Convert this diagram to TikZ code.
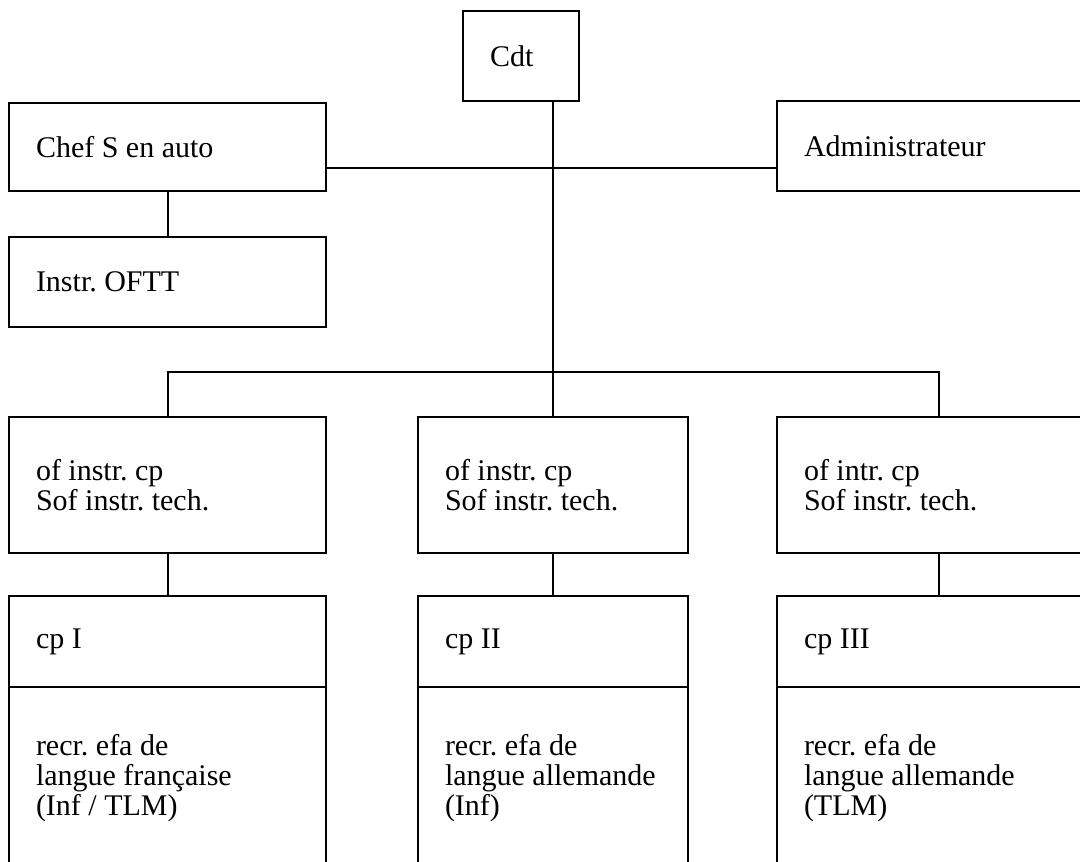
\documentclass[tikz,border=0pt]{standalone}
\usepackage{fontspec}
\setmainfont{Liberation Serif}
\usetikzlibrary{positioning}
\tikzset{
  orgbox/.style={draw, line width=2pt, anchor=north west, align=flush left,
    inner xsep=27pt, inner ysep=0pt, font=\fontsize{30}{30}\selectfont\frenchspacing},
  link/.style={line width=2pt}
}
\begin{document}
\begin{tikzpicture}[x=1pt,y=-1pt]
\clip (0,0) rectangle (1080,862);
\fill[white] (0,0) rectangle (1080,862);

%commandement
\node[orgbox, text width=62pt, minimum height=90pt] (cdt) at (462,10) {Cdt};
\node[orgbox, text width=263pt, minimum height=88pt] (chef) at (8,102) {Chef S en auto};
\node[orgbox, text width=270pt, minimum height=90pt] (admin) at (776,100) {Administrateur};
\node[orgbox, text width=263pt, minimum height=90pt] (instr) at (8,236) {Instr. OFTT};

\draw[link] (chef.south) -- (instr.north);
\coordinate (staff) at (552,168);
\draw[link] (chef.east |- staff) -- (admin.west |- staff);

%compagnies
\foreach \n/\x/\w/\lead/\unit/\recr in {
  1/8/317/{of instr. cp\\Sof instr. tech.}/{cp I}/{recr. efa de\\langue française\\(Inf / TLM)},
  2/417/270/{of instr. cp\\Sof instr. tech.}/{cp II}/{recr. efa de\\langue allemande\\(Inf)},
  3/776/324/{of intr. cp\\Sof instr. tech.}/{cp III}/{recr. efa de\\langue allemande\\(TLM)}}
{
  \pgfmathsetmacro\tw{\w-54}
  \node[orgbox, text width=\tw pt, minimum height=136pt] (lead\n) at (\x,416) {\lead};
  \node[orgbox, text width=\tw pt, minimum height=91pt] (unit\n) at (\x,595) {\unit};
  \node[orgbox, text width=\tw pt, minimum height=182pt] (recr\n) at (\x,686) {\recr};
  \draw[link] (lead\n.south) -- (unit\n.north);
}

%liaisons
\coordinate (bus) at (552,372);
\draw[link] (lead1.north) |- (bus) -| (lead3.north);
\draw[link] (cdt.south -| lead2.north) -- (lead2.north);

\end{tikzpicture}
\end{document}
